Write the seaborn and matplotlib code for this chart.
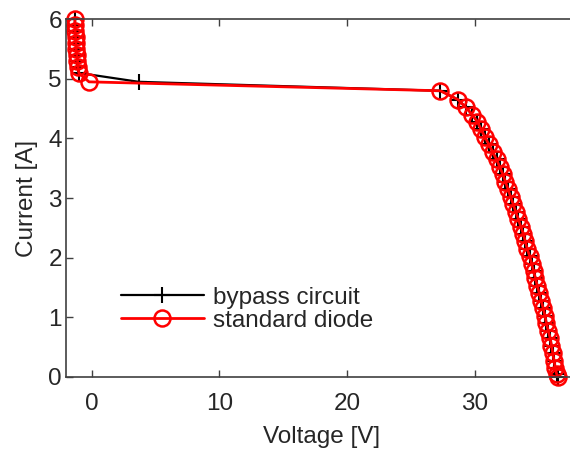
import numpy as np
import pandas as pd
import seaborn as sns
import matplotlib.pyplot as plt

# I-V curve points (voltage in V, current in A)
knee_v = [27.3, 28.7, 29.3, 29.8, 30.2, 30.5, 30.8, 31.1, 31.4, 31.7, 31.95, 32.2, 32.4,
          32.6, 32.8, 33.0, 33.2, 33.4, 33.6, 33.8, 33.95, 34.1, 34.3, 34.45, 34.6, 34.75,
          34.9, 35.05, 35.2, 35.35, 35.5, 35.6, 35.75, 35.9, 36.0, 36.1, 36.2, 36.3, 36.4, 36.5]
knee_i = [4.80, 4.65, 4.52, 4.40, 4.28, 4.15, 4.02, 3.90, 3.77, 3.65, 3.52, 3.40, 3.27,
          3.15, 3.02, 2.90, 2.77, 2.65, 2.52, 2.40, 2.27, 2.15, 2.02, 1.90, 1.77, 1.65,
          1.52, 1.40, 1.27, 1.15, 1.02, 0.90, 0.77, 0.65, 0.52, 0.40, 0.27, 0.15, 0.05, 0.0]

rev_v = [-1.3, -1.3, -1.28, -1.25, -1.22, -1.2, -1.15, -1.1, -1.05, -1.0]
rev_i = [6.0, 5.9, 5.8, 5.7, 5.6, 5.5, 5.4, 5.3, 5.2, 5.1]

bypass_v = rev_v + [3.7] + knee_v
bypass_i = rev_i + [4.95] + knee_i
diode_v = rev_v + [-0.2] + knee_v
diode_i = rev_i + [4.95] + knee_i

sns.set_style('ticks')
plt.rcParams['font.family'] = ['Liberation Sans', 'DejaVu Sans']
fs = 17.5

fig = plt.figure(figsize=(5.7, 4.51), dpi=100)
ax = fig.add_axes([66 / 570, 74.3 / 451, 511 / 570, 357.4 / 451])

sns.lineplot(x=bypass_v, y=bypass_i, sort=False, estimator=None, color='black',
             linewidth=1.6, marker='+', markersize=12, markeredgewidth=1.5,
             markeredgecolor='black', label='bypass circuit', ax=ax, clip_on=False)
sns.lineplot(x=diode_v, y=diode_i, sort=False, estimator=None, color='red',
             linewidth=2.0, marker='o', markersize=11.5, markeredgewidth=1.8,
             markerfacecolor='none', markeredgecolor='red', label='standard diode',
             ax=ax, clip_on=False)

ax.set_xlim(-2, 38)
ax.set_ylim(0, 6)
ax.set_xticks([0, 10, 20, 30])
ax.set_yticks([0, 1, 2, 3, 4, 5, 6])
ax.set_xlabel('Voltage [V]', fontsize=fs, color='0.15', labelpad=8)
ax.set_ylabel('Current [A]', fontsize=fs, color='0.15', labelpad=7)
ax.tick_params(direction='in', top=True, right=True, length=5, width=1,
               labelsize=fs, colors='0.25', labelcolor='0.15')
ax.tick_params(axis='x', pad=12)
ax.tick_params(axis='y', pad=3)
for s in ax.spines.values():
    s.set_color('0.25')
    s.set_linewidth(1.2)
    s.set_visible(True)

ax.legend(loc='center left', bbox_to_anchor=(0.065, 0.189), frameon=False,
          fontsize=fs, handlelength=3.4, handletextpad=0.4, labelspacing=0.05)

fig.savefig('out.png', dpi=100)
